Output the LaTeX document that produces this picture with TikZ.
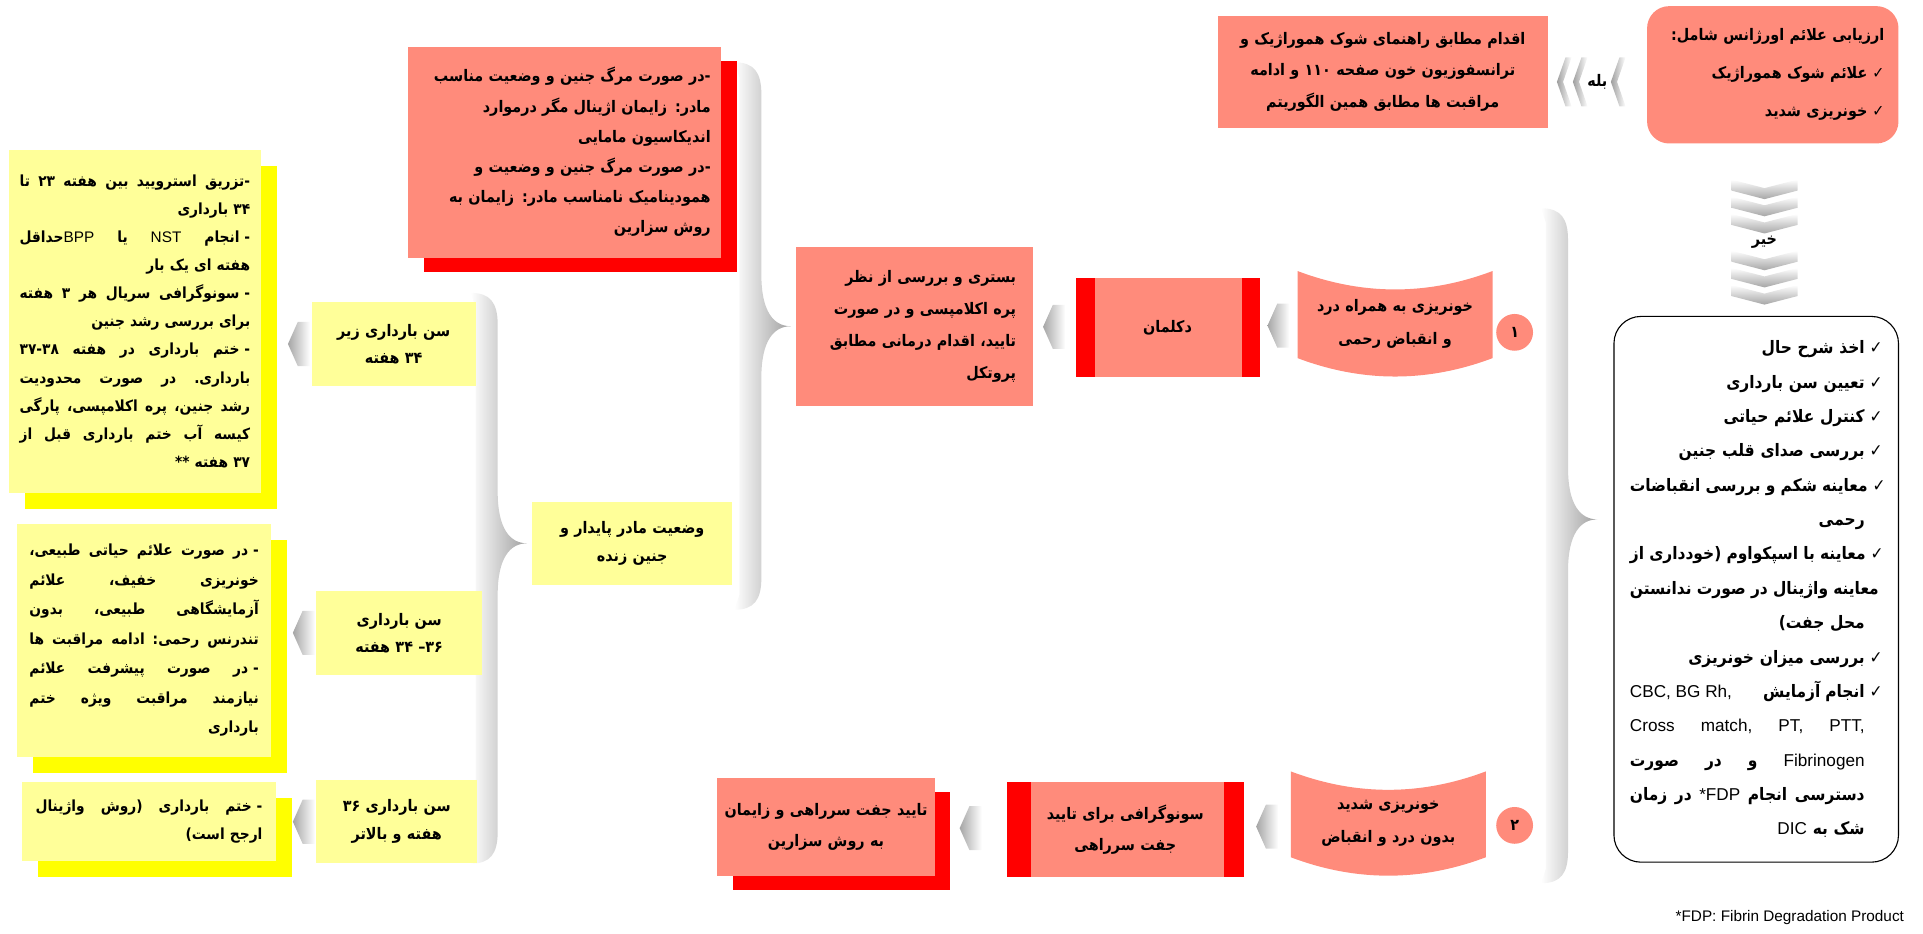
\documentclass[tikz,border=0pt]{standalone}
\usepackage{fontspec}
\newfontfamily\fa[Script=Arabic,FakeStretch=0.9]{DejaVu Sans}
\newfontfamily\lat{Liberation Sans}
\usetikzlibrary{calc,shadows}
\TeXXeTstate=1
\definecolor{salmon}{RGB}{255,139,123}
\definecolor{paleyel}{RGB}{255,255,153}
\definecolor{brightyel}{RGB}{255,255,0}
\pgfdeclarelayer{back}
\pgfsetlayers{back,main}
\newcommand\rtl[1]{\beginR#1\endR}
\newcommand\jrtl[1]{\noindent\hbox to\hsize{\frenchspacing\spaceskip=.3em plus 1fil\beginR#1\endR}}
\newcommand\jltr[1]{\noindent\hbox to\hsize{\frenchspacing\spaceskip=.3em plus 1fil#1}}
\newcommand\ltr[1]{\beginL{\lat\mdseries\spaceskip=0pt#1}\endL}
\newcommand\chk{✓\hskip4pt\relax}
\newcommand\hng{\hphantom{✓\hskip4pt}}
\newcommand\dsh{-\hskip4pt\relax}
\newcommand\grbrace[3]{%
  \shade[left color=white,right color=gray!75] let \p1=#1,\p2=#2,\p3=#3 in
    (\x2-46pt,\y1) .. controls (\x2-30pt,\y1) and (\x2-24pt,\y1-8pt) .. (\x2-24pt,\y1-26pt)
    -- (\x2-24pt,\y2+42pt) .. controls (\x2-24pt,\y2+12pt) and (\x2-14pt,\y2) .. (\x2,\y2)
    .. controls (\x2-14pt,\y2) and (\x2-24pt,\y2-12pt) .. (\x2-24pt,\y2-42pt)
    -- (\x2-24pt,\y3+26pt) .. controls (\x2-24pt,\y3+8pt) and (\x2-30pt,\y3) .. (\x2-46pt,\y3)
    -- (\x2-42pt,\y3+12pt) -- (\x2-42pt,\y1-12pt) -- cycle;}
\begin{document}
\begin{tikzpicture}[x=1pt,y=-1pt,
    txt/.style={font=\fa\bfseries\fontsize{13}{#1}\selectfont},
    smalltxt/.style={font=\fa\bfseries\fontsize{12.5}{#1}\selectfont},
    bigtxt/.style={font=\fa\bfseries\fontsize{14}{#1}\selectfont},
    salbox/.style={fill=salmon,inner sep=0pt},
    yelbox/.style={fill=paleyel,inner sep=0pt},
    redshadow/.style={drop shadow={shadow xshift=13pt,shadow yshift=-12pt,fill=red,opacity=1}},
    yelshadow/.style={drop shadow={shadow xshift=13pt,shadow yshift=-13pt,fill=brightyel,opacity=1}},
    barbox/.style 2 args={fill=red,inner sep=0pt,path picture={\fill[salmon] ([xshift=#1pt]path picture bounding box.south west) rectangle ([xshift=-#2pt]path picture bounding box.north east);}},
    wavebox/.style={fill=white,inner sep=0pt,minimum width=159pt,minimum height=86pt,text width=150pt,align=center,
      path picture={\fill[salmon] (path picture bounding box.north west) .. controls +(53,20) and +(-53,20) .. (path picture bounding box.north east)
        -- ([yshift=15pt]path picture bounding box.south east) .. controls +(-53,20) and +(53,20) .. ([yshift=15pt]path picture bounding box.south west) -- cycle;}},
    badge/.style={circle,fill=salmon,minimum size=30pt,inner sep=0pt},
    chevl/.pic={\shade[left color=gray!70,right color=white] (-9,0) -- (-1,-18) -- (9,-18) -- (9,18) -- (-1,18) -- cycle;},
    chevthin/.pic={\shade[left color=gray!75,right color=white] (-6,0) -- (1,-20) -- (6,-20) -- (-1,0) -- (6,20) -- (1,20) -- cycle;},
    chevd/.pic={\shade[top color=white,bottom color=gray!70] (-27,-8) -- (0,-1) -- (27,-8) -- (27,1) -- (0,8) -- (-27,1) -- cycle;}]
  \useasboundingbox (0,0) rectangle (1568,761);

  \node[salbox,rounded corners=18pt,minimum width=205pt,minimum height=112pt,text width=182pt,align=right,txt=31] (assess) at (1445.5,61)
    {\rtl{ارزیابی علائم اورژانس شامل:}\\ \rtl{\chk علائم شوک هموراژیک}\\ \rtl{\chk خونریزی شدید}};
  \node[salbox,minimum width=269pt,minimum height=91pt,text width=262pt,align=center,txt=25.5] (shock) at (1127.5,58.5)
    {\rtl{اقدام مطابق راهنمای شوک هموراژیک و}\\ \rtl{ترانسفوزیون خون صفحه ۱۱۰ و ادامه}\\ \rtl{مراقبت ها مطابق همین الگوریتم}};
  \node[txt=14] (yes) at ([yshift=-7pt]$(shock.east)!.5!(assess.west)$) {\rtl{بله}};
  \pic at ([xshift=-27pt]yes) {chevthin};
  \pic at ([xshift=-14pt]yes) {chevthin};
  \pic at ([xshift=17pt]yes) {chevthin};

  \node[draw,line width=0.9pt,rounded corners=22pt,fill=white,inner sep=0pt,minimum width=232pt,minimum height=445pt,text width=206pt,align=right,bigtxt=28] (check) at (1432,480.5)
    {\rtl{\chk اخذ شرح حال}\\
     \rtl{\chk تعیین سن بارداری}\\
     \rtl{\chk کنترل علائم حیاتی}\\
     \rtl{\chk بررسی صدای قلب جنین}\\
     \jrtl{\chk معاینه شکم و بررسی انقباضات}\\
     \rtl{\hng رحمی}\\
     \jrtl{\chk معاینه با اسپکواوم (خودداری از}\\
     \jrtl{\hng معاینه واژینال در صورت ندانستن}\\
     \rtl{\hng محل جفت)}\\
     \rtl{\chk بررسی میزان خونریزی}\\
     \jrtl{\chk انجام\hskip4pt آزمایش\hfill\ltr{CBC\kern0pt, BG Rh\kern0pt,}}\\
     \jltr{{\lat\mdseries Cross match, PT, PTT,}\hng}\\
     \jrtl{\hng\ltr{Fibrinogen} و در صورت}\\
     \jrtl{\hng دسترسی انجام \ltr{*\kern0pt FDP} در زمان}\\
     \rtl{\hng شک به \ltr{DIC}}};
  \node[txt=14] (no) at ([yshift=-10pt]$(assess.south)!.5!(check.north)$) {\rtl{خیر}};
  \foreach \d in {-43,-29,-15,15,29,43}
    \pic at ($(no)+(0,\d)$) {chevd};

  \node[wavebox,txt=27] (bleed1) at (1137.5,264) {\rtl{خونریزی به همراه درد}\\ \rtl{و انقباض رحمی}};
  \node[badge,txt=14] (n1) at (1235,271) {\rtl{۱}};
  \node[wavebox,txt=27,minimum height=85pt] (bleed2) at (1132,671.5) {\rtl{خونریزی شدید}\\ \rtl{بدون درد و انقباض}};
  \node[badge,txt=14] (n2) at (1235,673) {\rtl{۲}};

  \node[barbox={16}{14},minimum width=150pt,minimum height=80pt,txt=24] (dec) at (952,267) {\rtl{دکلمان}};
  \node[salbox,minimum width=193pt,minimum height=130pt,text width=166pt,align=right,txt=26] (bed) at (745.5,266)
    {\rtl{بستری و بررسی از نظر}\\ \rtl{پره اکلامپسی و در صورت}\\ \rtl{تایید، اقدام درمانی مطابق}\\ \rtl{پروتکل}};
  \pic at ($(dec.east)!.5!(bleed1.west)$) {chevl};
  \pic at ($(bed.east)!.5!(dec.west)$) {chevl};

  \node[barbox={20}{16},minimum width=193pt,minimum height=77pt,text width=170pt,align=center,txt=25] (sono) at (917.5,676.5)
    {\rtl{سونوگرافی برای تایید}\\ \rtl{جفت سرراهی}};
  \node[salbox,redshadow,minimum width=177pt,minimum height=80pt,text width=176pt,align=center,txt=25] (cs) at (673.5,674)
    {\rtl{تایید جفت سرراهی و زایمان}\\ \rtl{به روش سزارین}};
  \pic at ($(sono.east)!.5!(bleed2.west)$) {chevl};
  \pic at ($(cs.east)!.5!(sono.west)$) {chevl};

  \node[salbox,redshadow,minimum width=255pt,minimum height=172pt,text width=238pt,align=right,txt=24.6] (loss) at (460.5,124)
    {\rtl{-در صورت مرگ جنین و وضعیت مناسب}\\
     \rtl{مادر:  زایمان اژینال مگر درموارد}\\
     \rtl{اندیکاسیون مامایی}\\
     \rtl{-در صورت مرگ جنین و وضعیت و}\\
     \rtl{همودینامیک  نامناسب مادر: زایمان به}\\
     \rtl{روش سزارین}};
  \node[yelbox,minimum width=163pt,minimum height=68pt,text width=150pt,align=center,txt=23] (stable) at (515.5,443)
    {\rtl{وضعیت مادر پایدار و}\\ \rtl{جنین زنده}};

  \node[yelbox,minimum width=134pt,minimum height=69pt,text width=125pt,align=center,txt=22] (age1) at (321,280.5)
    {\rtl{سن بارداری زیر}\\ \rtl{۳۴ هفته}};
  \node[yelbox,minimum width=135pt,minimum height=68pt,text width=125pt,align=center,txt=22] (age2) at (325.5,516)
    {\rtl{سن بارداری}\\ \rtl{۳۶– ۳۴ هفته}};
  \node[yelbox,minimum width=131pt,minimum height=68pt,text width=125pt,align=center,txt=23] (age3) at (323.5,670)
    {\rtl{سن بارداری ۳۶}\\ \rtl{هفته و بالاتر}};

  \node[yelbox,yelshadow,minimum width=206pt,minimum height=280pt,text width=188pt,align=right,smalltxt=22.9] (t1) at (110,262)
    {\jrtl{-تزریق استرویید بین هفته ۲۳ تا}\\
     \rtl{۳۴ بارداری}\\
     \jrtl{\dsh انجام \ltr{NST} یا \ltr{BPP}حداقل}\\
     \rtl{هفته ای یک بار}\\
     \jrtl{\dsh سونوگرافی سریال هر ۳ هفته}\\
     \rtl{برای بررسی رشد جنین}\\
     \jrtl{\dsh ختم بارداری در هفته \beginL ۳۷-۳۸\endL}\\
     \jrtl{بارداری. در صورت محدودیت}\\
     \jrtl{رشد جنین، پره اکلامپسی، پارگی}\\
     \jrtl{کیسه آب ختم بارداری قبل از}\\
     \rtl{۳۷ هفته **}};
  \node[yelbox,yelshadow,minimum width=207pt,minimum height=190pt,text width=187pt,align=right,smalltxt=24] (t2) at (117.5,522)
    {\jrtl{\dsh در صورت علائم حیاتی طبیعی،}\\
     \jrtl{خونریزی خفیف، علائم}\\
     \jrtl{آزمایشگاهی طبیعی، بدون}\\
     \jrtl{تندرنس رحمی: ادامه مراقبت ها}\\
     \jrtl{\dsh در صورت پیشرفت علائم}\\
     \jrtl{نیازمند مراقبت ویژه ختم}\\
     \rtl{بارداری}};
  \node[yelbox,yelshadow,minimum width=207pt,minimum height=64pt,text width=185pt,align=right,smalltxt=23] (t3) at (121.5,670)
    {\jrtl{\dsh ختم بارداری (روش واژینال}\\ \rtl{ارجح است)}};
  \pic at ([xshift=-10pt]age1.west) {chevl};
  \pic at ([xshift=-10pt]age2.west) {chevl};
  \pic at ([xshift=-10pt]age3.west) {chevl};

  \node[anchor=east,font=\lat\fontsize{12.5}{14}\selectfont] (fn) at (1556,748) {*FDP: Fibrin Degradation Product};

  \coordinate (b1top) at ([yshift=-13pt]loss.north);
  \coordinate (b1bot) at ([yshift=-20pt]stable.south);
  \coordinate (b2top) at ([yshift=7pt]age1.north);
  \coordinate (b3top) at ([yshift=51pt]bleed1.north);
  \coordinate (b3bot) at ([yshift=-6pt]bleed2.south);
  \begin{pgfonlayer}{back}
    \grbrace{(b1top)}{([xshift=-4pt]bed.west)}{(b1bot)}
    \grbrace{(b2top)}{([xshift=-4pt]stable.west)}{(age3.south)}
    \grbrace{(b3top)}{([xshift=-13pt,yshift=57pt]check.west)}{(b3bot)}
  \end{pgfonlayer}
\end{tikzpicture}
\end{document}
